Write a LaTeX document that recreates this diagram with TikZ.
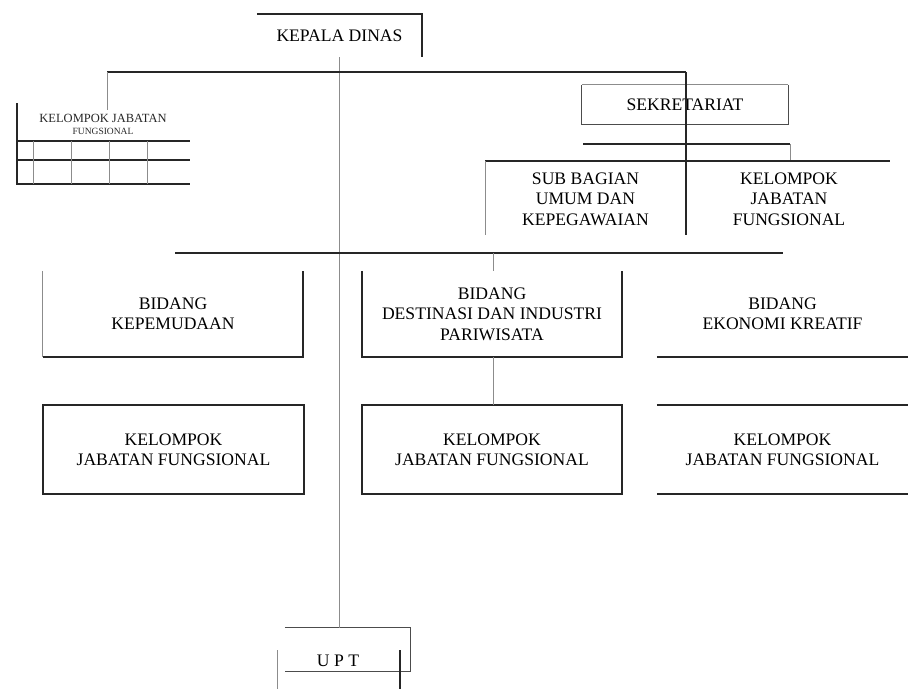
\documentclass[tikz,border=0pt]{standalone}
\usepackage{fontspec}
\setmainfont{Liberation Serif}
\begin{document}
\begin{tikzpicture}[x=1pt,y=-1pt,
  heavy/.style={line width=1.6pt,black!85},
  medium/.style={line width=1.1pt,black!70},
  light/.style={line width=0.8pt,black!45},
  lbl/.style={font=\fontsize{17.6}{20.5}\selectfont,align=center,inner sep=0pt,text=black},
  small/.style={font=\fontsize{12.5}{13}\selectfont,align=center,inner sep=0pt,text=black!85}]
\useasboundingbox (0,0) rectangle (908,689);

% Kepala Dinas
\node[lbl,minimum width=165pt,minimum height=43pt] (kd) at (339.5,35.5) {KEPALA DINAS};
\draw[heavy] (kd.north west) -- (kd.north east) -- (kd.south east);

% UPT
\node[minimum width=125pt,minimum height=43pt,inner sep=0pt] (upt) at (347.5,649.5) {};
\node[lbl] (uptl) at (338,661) {U P T};
\draw[medium] (upt.north west) -- (upt.north east) -- (upt.south east) -- (upt.south west);
\coordinate (u1) at (277,650); \coordinate (u1b) at (277,689);
\coordinate (u2) at (400,650); \coordinate (u2b) at (400,689);
\draw[light] (u1) -- (u1b);
\draw[heavy] (u2) -- (u2b);

% main vertical
\draw[light] (kd.south) -- (kd.south |- upt.north);

% top horizontal
\coordinate (h1L) at (107,72);
\coordinate (h1Ld) at (107,110);
\coordinate (h1R) at (686,72);
\draw[heavy] (h1L) -- (h1R);
\draw[light] (h1L) -- (h1Ld);

% left kelompok jabatan grid
\node[small] (kjl) at (103,118) {KELOMPOK JABATAN};
\node[small,font=\fontsize{9.5}{10}\selectfont] (kjl2) at (103,131) {FUNGSIONAL};
\coordinate (g0) at (17,103);
\draw[heavy] (g0) -- (17,185);
\draw[heavy] (17,141) -- (190,141);
\draw[heavy] (17,160) -- (190,160);
\draw[heavy] (17,184) -- (190,184);
\foreach \gx in {33,71,109,147} \draw[light] (\gx,141) -- (\gx,184);

% Sekretariat
\node[lbl,minimum width=206pt,minimum height=39pt] (sek) at (685,104.5) {SEKRETARIAT};
\draw[light] (sek.north west) -- (sek.north east);
\draw[medium] (sek.north east) -- (sek.south east) -- (sek.south west) -- (sek.north west);

% sub bagian & kelompok jabatan
\node[lbl,minimum width=201pt,minimum height=72pt] (sb) at (585.5,199) {SUB BAGIAN\\UMUM DAN\\KEPEGAWAIAN};
\node[lbl,minimum width=204pt,minimum height=72pt] (kjf) at (789,199) {KELOMPOK\\JABATAN\\FUNGSIONAL};
\draw[heavy] (h1R) -- (h1R |- sb.south);
\coordinate (s1) at (583,144); \coordinate (s2) at (790,144); \coordinate (s3) at (790,161);
\draw[heavy] (s1) -- (s2);
\draw[light] (s2) -- (s3);
\coordinate (t1) at (485,161); \coordinate (t2) at (890,161);
\draw[heavy] (t1) -- (t2);
\draw[light] (t1) -- (t1 |- sb.south);

% bidang row
\coordinate (b1) at (175,253); \coordinate (b2) at (783,253);
\draw[heavy] (b1) -- (b2);
\node[lbl,minimum width=260pt,minimum height=86pt] (bk) at (173,314) {BIDANG\\KEPEMUDAAN};
\draw[light] (bk.north west) -- (bk.south west);
\draw[heavy] (bk.south west) -- (bk.south east) -- (bk.north east);
\node[lbl,minimum width=260pt,minimum height=86pt] (bd) at (492,314) {BIDANG\\DESTINASI DAN INDUSTRI\\PARIWISATA};
\draw[heavy] (bd.north west) -- (bd.south west) -- (bd.south east) -- (bd.north east);
\coordinate (tk) at (493,253);
\draw[light] (tk) -- (tk |- bd.north);
\node[lbl,minimum width=251pt,minimum height=86pt] (be) at (782.5,314) {BIDANG\\EKONOMI KREATIF};
\draw[heavy] (be.south west) -- (be.south east);

% kelompok row
\node[lbl,minimum width=261pt,minimum height=89pt] (k1) at (173.5,449.5) {KELOMPOK\\JABATAN FUNGSIONAL};
\draw[heavy] (k1.north west) rectangle (k1.south east);
\node[lbl,minimum width=260pt,minimum height=89pt] (k2) at (492,449.5) {KELOMPOK\\JABATAN FUNGSIONAL};
\draw[heavy] (k2.north west) rectangle (k2.south east);
\node[lbl,minimum width=251pt,minimum height=89pt] (k3) at (782.5,449.5) {KELOMPOK\\JABATAN FUNGSIONAL};
\draw[heavy] (k3.north west) -- (k3.north east);
\draw[heavy] (k3.south west) -- (k3.south east);
\draw[light] (bd.south -| tk) -- (k2.north -| tk);
\end{tikzpicture}
\end{document}
